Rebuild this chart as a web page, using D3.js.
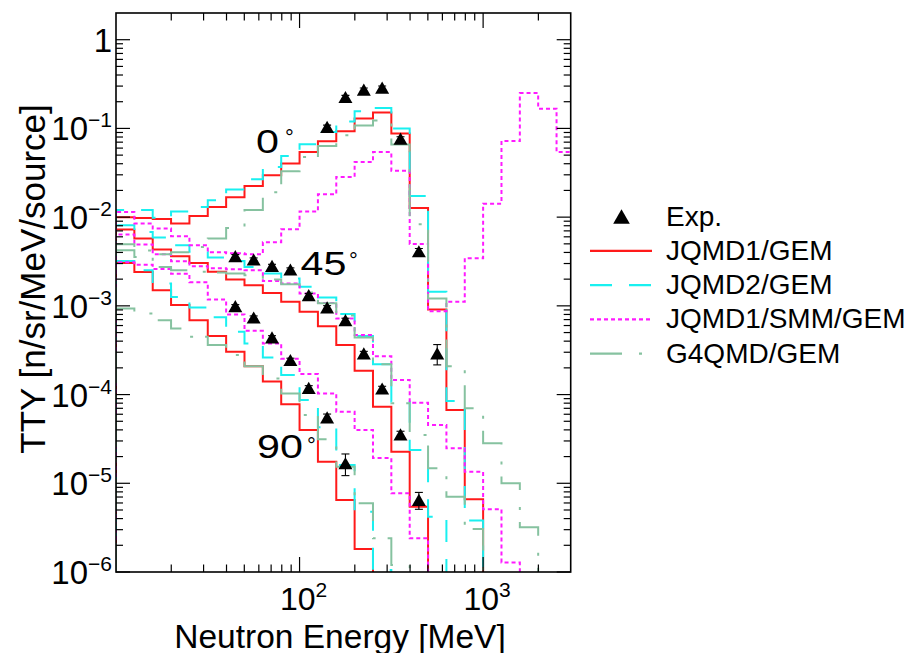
<!DOCTYPE html>
<html>
<head>
<meta charset="utf-8">
<script src="https://cdn.jsdelivr.net/npm/d3@7"></script>
<style>
  body { margin: 0; background: #fff; }
  text { font-family: "Liberation Sans", Arial, Helvetica, sans-serif; fill: #000; }
</style>
</head>
<body>
<svg id="chart" width="909" height="653"></svg>
<script>
// Energy bin edges [MeV]: 10 logarithmic bins per decade
const binEdges = [10, 12.59, 15.85, 19.95, 25.12, 31.62, 39.81, 50.12, 63.10, 79.43,
  100, 125.9, 158.5, 199.5, 251.2, 316.2, 398.1, 501.2, 631.0, 794.3,
  1000, 1259, 1585, 1995, 2512, 3162];

// Calculated thick-target yields per bin [n/sr/MeV/source]; 0 = empty bin
const jqmd1_0 = [1.0e-2, 9.8e-3, 9.5e-3, 8.5e-3, 1.03e-2, 1.30e-2, 1.68e-2, 2.25e-2, 2.96e-2, 4.02e-2,
  5.42e-2, 7.16e-2, 9.3e-2, 0.129, 0.151, 8.74e-2, 1.27e-2, 9.1e-4, 6.7e-5, 6.6e-6, 0, 0, 0, 0, 0];
const jqmd2_0 = [1.20e-2, 1.20e-2, 9.85e-3, 1.16e-2, 1.30e-2, 1.55e-2, 2.05e-2, 2.67e-2, 3.67e-2, 4.89e-2,
  6.62e-2, 9.1e-2, 0.120, 0.156, 0.170, 9.95e-2, 1.73e-2, 1.44e-3, 8.45e-5, 3.8e-6, 0, 0, 0, 0, 0];
const smm_0 = [1.14e-2, 8.47e-3, 7.44e-3, 6.09e-3, 4.82e-3, 4.02e-3, 3.92e-3, 3.82e-3, 5.22e-3, 7.31e-3,
  1.16e-2, 1.81e-2, 2.84e-2, 4.19e-2, 5.42e-2, 3.33e-2, 4.98e-3, 8.71e-4, 1.11e-3, 3.44e-3,
  1.42e-2, 7.21e-2, 0.250, 0.167, 5.42e-2];
const g4_0 = [4.95e-3, 4.22e-3, 3.82e-3, 4.02e-3, 4.62e-3, 5.74e-3, 7.55e-3, 1.20e-2, 1.91e-2, 3.29e-2,
  4.76e-2, 6.34e-2, 8.36e-2, 0.108, 0.123, 6.57e-2, 8.32e-3, 1.21e-3, 2.09e-4, 7.0e-5,
  2.82e-5, 1.0e-5, 3.2e-6, 0, 0];

const jqmd1_45 = [7.25e-3, 5.74e-3, 4.32e-3, 3.63e-3, 3.05e-3, 2.42e-3, 1.98e-3, 1.71e-3, 1.40e-3, 1.11e-3,
  8.56e-4, 5.9e-4, 3.61e-4, 1.85e-4, 7.29e-5, 2.27e-5, 5.45e-6, 0, 0, 0, 0, 0, 0, 0, 0];
const jqmd2_45 = [8.11e-3, 6.81e-3, 5.89e-3, 4.82e-3, 4.06e-3, 3.51e-3, 3.21e-3, 2.75e-3, 2.32e-3, 2.04e-3,
  1.64e-3, 1.24e-3, 8.07e-4, 4.56e-4, 2.2e-4, 8.3e-5, 2.37e-5, 4.2e-6, 0, 0, 0, 0, 0, 0, 0];
const smm_45 = [6.37e-3, 4.91e-3, 3.82e-3, 3.19e-3, 2.80e-3, 2.66e-3, 2.59e-3, 2.52e-3, 1.91e-3, 1.79e-3,
  1.38e-3, 1.08e-3, 7.21e-4, 4.68e-4, 2.71e-4, 1.46e-4, 8.09e-5, 4.54e-5, 2.48e-5, 1.35e-5,
  5.1e-6, 1.28e-6, 0, 0, 0];
const g4_45 = [4.23e-3, 3.56e-3, 2.75e-3, 2.52e-3, 2.42e-3, 2.37e-3, 2.32e-3, 2.22e-3, 1.98e-3, 1.75e-3,
  1.41e-3, 1.07e-3, 7.76e-4, 4.41e-4, 2.2e-4, 7.96e-5, 3.5e-5, 1.48e-5, 7.06e-6, 3.06e-6,
  0, 0, 0, 0, 0];

const jqmd1_90 = [3.05e-3, 2.40e-3, 1.50e-3, 1.02e-3, 6.9e-4, 4.56e-4, 3.03e-4, 2.09e-4, 1.40e-4, 7.76e-5,
  3.98e-5, 1.75e-5, 6.49e-6, 1.82e-6, 0, 0, 0, 0, 0, 0, 0, 0, 0, 0, 0];
const jqmd2_90 = [3.21e-3, 2.52e-3, 1.79e-3, 1.26e-3, 9.59e-4, 7.46e-4, 5.09e-4, 3.77e-4, 2.62e-4, 1.66e-4,
  8.67e-5, 4.27e-5, 1.61e-5, 4.79e-6, 1.05e-6, 0, 0, 0, 0, 0, 0, 0, 0, 0, 0];
const smm_90 = [3.1e-3, 2.9e-3, 2.6e-3, 2.3e-3, 1.85e-3, 1.18e-3, 8.0e-4, 5.23e-4, 3.77e-4, 2.53e-4,
  1.70e-4, 1.03e-4, 6.4e-5, 3.98e-5, 1.93e-5, 7.71e-6, 2.4e-6, 0, 0, 0, 0, 0, 0, 0, 0];
const g4_90 = [9.35e-4, 8.2e-4, 6.9e-4, 5.56e-4, 4.48e-4, 3.61e-4, 2.79e-4, 2.09e-4, 1.52e-4, 1.03e-4,
  5.87e-5, 3.13e-5, 1.54e-5, 5.96e-6, 2.4e-6, 1.2e-6, 0, 0, 0, 0, 0, 0, 0, 0, 0];

// Measured yields with uncertainties
const exp0Energy = [141.3, 177.8, 223.9, 281.8, 354.8, 446.7, 562.3];
const exp0Value  = [0.104, 0.226, 0.274, 0.288, 0.0767, 4.13e-3, 2.91e-4];
const exp0Error  = [0.005, 0.010, 0.012, 0.013, 0.004, 0.3e-3, 0.75e-4];
const exp45Energy = [44.67, 56.23, 70.79, 89.13, 112.2, 141.3, 177.8, 223.9, 281.8, 354.8, 446.7];
const exp45Value  = [3.63e-3, 3.33e-3, 2.82e-3, 2.57e-3, 1.32e-3, 9.6e-4, 6.9e-4, 2.91e-4, 1.17e-4, 3.56e-5, 6.49e-6];
const exp45Error  = [1.5e-4, 1.4e-4, 1.2e-4, 1.1e-4, 6e-5, 4.5e-5, 3.5e-5, 1.6e-5, 7e-6, 3e-6, 1.4e-6];
const exp90Energy = [44.67, 56.23, 70.79, 89.13, 112.2, 141.3, 177.8];
const exp90Value  = [9.93e-4, 7.4e-4, 4.41e-4, 2.45e-4, 1.19e-4, 5.53e-5, 1.68e-5];
const exp90Error  = [4e-5, 3e-5, 2e-5, 1.2e-5, 7e-6, 5e-6, 4.6e-6];

// Axis ticks
const xMajor = [100, 1000];
const xMajorExp = ["2", "3"];
const xMinor = [20, 30, 40, 50, 60, 70, 80, 90, 200, 300, 400, 500, 600, 700, 800, 900, 2000];
const yMajor = [1, 1e-1, 1e-2, 1e-3, 1e-4, 1e-5, 1e-6];
const yMajorExp = [null, "\u22121", "\u22122", "\u22123", "\u22124", "\u22125", "\u22126"];
const yMinorMant = [2, 3, 4, 5, 6, 7, 8, 9];
const yDecades = [1e-6, 1e-5, 1e-4, 1e-3, 1e-2, 1e-1];

const legendLabels = ["Exp.", "JQMD1/GEM", "JQMD2/GEM", "JQMD1/SMM/GEM", "G4QMD/GEM"];
const angleLabels = ["0", "45", "90"];

// Model styles
const models = [
  { name: "JQMD1/GEM",     color: "#ff1a1a", dash: null,         sets: [jqmd1_0, jqmd1_45, jqmd1_90] },
  { name: "JQMD2/GEM",     color: "#19f0f0", dash: "22 17",      sets: [jqmd2_0, jqmd2_45, jqmd2_90] },
  { name: "JQMD1/SMM/GEM", color: "#ff1aff", dash: "4 3",        sets: [smm_0, smm_45, smm_90] },
  { name: "G4QMD/GEM",     color: "#86c2a0", dash: "32 17 3 12", sets: [g4_0, g4_45, g4_90] }
];

const svg = d3.select("#chart");
const L = 116, R = 570.7, T = 13, B = 572;
const x = d3.scaleLog().domain([10, 3000]).range([L, R]);
const y = d3.scaleLog().domain([1e-6, 2]).range([B, T]);

svg.append("defs").append("clipPath").attr("id", "plotClip")
  .append("rect").attr("x", L).attr("y", T).attr("width", R - L).attr("height", B - T);

// Step histogram outline; empty bins drop below the frame
function histPath(vals) {
  const yb = B + 3;
  let p = "", open = false;
  vals.forEach((v, i) => {
    const x0 = x(binEdges[i]), x1 = x(binEdges[i + 1]);
    if (v > 0) {
      const yy = y(v);
      p += open ? `V${yy}` : `M${x0},${yb}V${yy}`;
      p += `H${x1}`;
      open = true;
    } else if (open) {
      p += `V${yb}`;
      open = false;
    }
  });
  return p;
}

const plot = svg.append("g").attr("clip-path", "url(#plotClip)");
models.forEach(m => {
  m.sets.forEach(vals => {
    plot.append("path")
      .attr("d", histPath(vals))
      .attr("fill", "none")
      .attr("stroke", m.color)
      .attr("stroke-width", 2)
      .attr("stroke-dasharray", m.dash)
      .attr("stroke-linejoin", "miter");
  });
});

// Experimental points: error bars and filled triangles
const triSize = 85;
const tri = d3.symbol(d3.symbolTriangle).size(triSize);
const triOff = Math.sqrt(triSize / (Math.sqrt(3) * 3)) / 2;
const expSets = [
  [exp0Energy, exp0Value, exp0Error],
  [exp45Energy, exp45Value, exp45Error],
  [exp90Energy, exp90Value, exp90Error]
];
const expG = plot.append("g");
expSets.forEach(([E, V, S]) => {
  E.forEach((e, i) => {
    const cx = x(e), lo = y(V[i] - S[i]), hi = y(V[i] + S[i]);
    expG.append("line").attr("x1", cx).attr("x2", cx).attr("y1", lo).attr("y2", hi)
      .attr("stroke", "#000").attr("stroke-width", 1.1);
    [lo, hi].forEach(yy => expG.append("line")
      .attr("x1", cx - 4).attr("x2", cx + 4).attr("y1", yy).attr("y2", yy)
      .attr("stroke", "#000").attr("stroke-width", 1.1));
    expG.append("path").attr("d", tri)
      .attr("transform", `translate(${cx},${y(V[i]) + triOff})`)
      .attr("fill", "#000");
  });
});

// Frame and inward ticks on all four sides
const axisG = svg.append("g").attr("stroke", "#000").attr("stroke-width", 1.2);
function tickLines(vals, scale, horiz, len) {
  vals.forEach(v => {
    const p = scale(v);
    if (horiz) {
      axisG.append("line").attr("x1", p).attr("x2", p).attr("y1", B).attr("y2", B - len);
      axisG.append("line").attr("x1", p).attr("x2", p).attr("y1", T).attr("y2", T + len);
    } else {
      axisG.append("line").attr("x1", L).attr("x2", L + len).attr("y1", p).attr("y2", p);
      axisG.append("line").attr("x1", R).attr("x2", R - len).attr("y1", p).attr("y2", p);
    }
  });
}
tickLines(xMajor, x, true, 15);
tickLines(xMinor, x, true, 7.5);
tickLines(yMajor, y, false, 14);
const yMinor = [];
yDecades.forEach(d => yMinorMant.forEach(m => yMinor.push(m * d)));
tickLines(yMinor, y, false, 7);
svg.append("rect").attr("x", L).attr("y", T).attr("width", R - L).attr("height", B - T)
  .attr("fill", "none").attr("stroke", "#000").attr("stroke-width", 1.6);

// Tick labels
yMajor.forEach((v, i) => {
  const t = svg.append("text").attr("x", 112).attr("y", y(v) + 12)
    .attr("text-anchor", "end").attr("font-size", 33);
  if (yMajorExp[i] === null) {
    t.text("1");
  } else {
    t.append("tspan").text("10");
    t.append("tspan").attr("font-size", 21).attr("dy", -13).text(yMajorExp[i]);
  }
});
xMajor.forEach((v, i) => {
  const t = svg.append("text").attr("x", x(v) + 4).attr("y", 610)
    .attr("text-anchor", "middle").attr("font-size", 32);
  t.append("tspan").text("10");
  t.append("tspan").attr("font-size", 21).attr("dy", -13).text(xMajorExp[i]);
});

// Axis titles
svg.append("text").attr("x", 340).attr("y", 647.5).attr("text-anchor", "middle")
  .attr("font-size", 33.5).text("Neutron Energy [MeV]");
svg.append("text").attr("transform", "translate(45,279) rotate(-90)")
  .attr("text-anchor", "middle").attr("font-size", 35).text("TTY [n/sr/MeV/source]");

// Emission angle labels
const anglePos = [[256, 153, 285, 145], [300.5, 275, 349, 268], [257, 458, 307, 452.5]];
angleLabels.forEach((a, i) => {
  const [tx, ty, dx, dy] = anglePos[i];
  svg.append("text").attr("transform", `translate(${tx},${ty}) scale(1.25,1)`)
    .attr("font-size", 33).text(a);
  svg.append("text").attr("x", dx).attr("y", dy).attr("font-size", 22).text("\u00b0");
});

// Legend
const legRow0 = 216.5, legStep = 34.3;
const leg = svg.append("g");
legendLabels.forEach((lab, i) => {
  const ry = legRow0 + i * legStep;
  if (i === 0) {
    leg.append("path").attr("d", d3.symbol(d3.symbolTriangle).size(120))
      .attr("transform", `translate(621.5,${ry + Math.sqrt(120 / (Math.sqrt(3) * 3)) / 2})`)
      .attr("fill", "#000");
  } else {
    const m = models[i - 1];
    leg.append("line").attr("x1", 590).attr("x2", 652).attr("y1", ry).attr("y2", ry)
      .attr("stroke", m.color).attr("stroke-width", 2.2).attr("stroke-dasharray", m.dash);
  }
  leg.append("text").attr("x", 666).attr("y", ry + 9).attr("font-size", 28).text(lab);
});
</script>
</body>
</html>
